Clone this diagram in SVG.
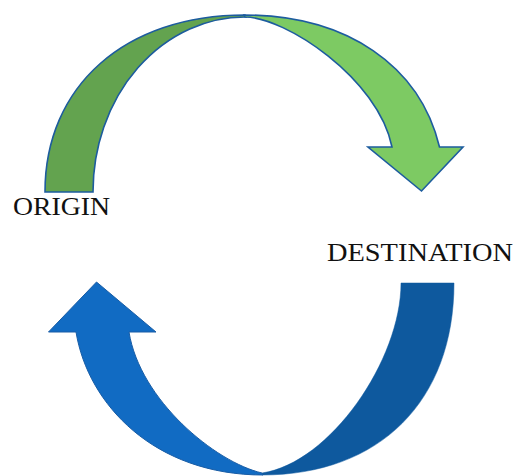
<svg xmlns="http://www.w3.org/2000/svg" width="516" height="476" viewBox="0 0 516 476">
<style>
.lbl{font-family:"Liberation Serif","Times New Roman",serif;font-size:26px;fill:#111}
.g1{fill:#63A34F;stroke:#1D5C9E;stroke-width:1.6;stroke-linejoin:miter}
.g2{fill:#7DCA63;stroke:#1D5C9E;stroke-width:1.6;stroke-linejoin:miter}
.b1{fill:#116BC3;stroke:#195DA6;stroke-width:1}
.b2{fill:#0E599E;stroke:#0E599E;stroke-width:0.5}
</style>
<rect width="516" height="476" fill="#fff"/>
<g id="connectors">
  <path class="g1" d="M45,192 C45,86 125,15 245,15 L246,17 A152,175 0 0 0 93,192 Z"/>
  <path class="g2" d="M244,15 C347,15 420,66 439.5,147 L463,147 L421.5,191 L368,147 L392,147 C378,78 285,17 245,17 Z"/>
  <path class="b2" d="M454,283 C454,401 380,475 262,475 L262,473 C330,463 401,360 401,283 Z"/>
  <path class="b1" d="M263,475 C155,475 88,405 76,332 L48.5,332 L96.5,282 L156,332 L129,332 C140,400 215,462 262,473 Z"/>
</g>
<g id="origin">
  <text class="lbl" x="13" y="215" textLength="97" lengthAdjust="spacingAndGlyphs">ORIGIN</text>
</g>
<g id="destination">
  <text class="lbl" x="327" y="261" textLength="186" lengthAdjust="spacingAndGlyphs">DESTINATION</text>
</g>
</svg>
